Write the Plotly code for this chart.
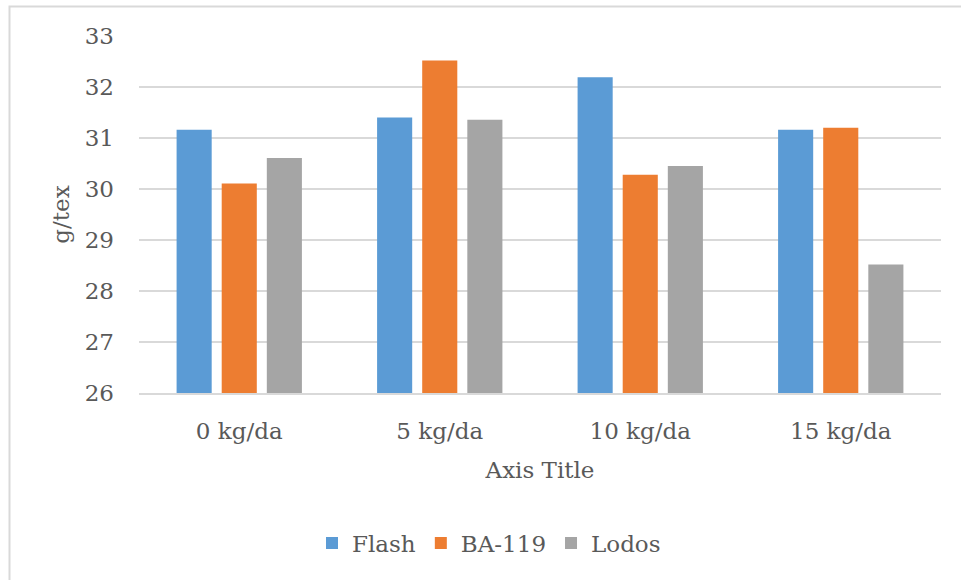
import plotly.graph_objects as go

# Fertilizer doses and fibre strength (g/tex) per cultivar
categories = ["0 kg/da", "5 kg/da", "10 kg/da", "15 kg/da"]
flash = [31.16, 31.40, 32.19, 31.16]
ba119 = [30.11, 32.52, 30.28, 31.20]
lodos = [30.61, 31.36, 30.45, 28.52]

series_names = ["Flash", "BA-119", "Lodos"]
series_colors = ["#5B9BD5", "#ED7D31", "#A5A5A5"]

W, H = 961, 580
L, R, T, B = 139, 20, 36, 187
plot_w = W - L - R
plot_h = H - T - B

text_color = "#595959"
grid_color = "#D9D9D9"
font_family = "DejaVu Serif"
fs = 23

fig = go.Figure()
for name, vals, col in zip(series_names, [flash, ba119, lodos], series_colors):
    fig.add_trace(go.Bar(
        x=categories, y=vals, name=name,
        marker=dict(color=col, line=dict(width=0)),
    ))


def px_to_paper_x(px):
    return (px - L) / plot_w


def px_to_paper_y(py):
    return (H - B - py) / plot_h


fig.update_layout(
    width=W, height=H,
    margin=dict(l=L, r=R, t=T, b=B, autoexpand=False),
    paper_bgcolor="white",
    plot_bgcolor="white",
    font=dict(family=font_family, size=fs, color=text_color),
    barmode="group",
    bargap=0.325,
    bargroupgap=0.222,
    showlegend=True,
    legend=dict(
        orientation="h",
        x=px_to_paper_x(489), xanchor="center",
        y=px_to_paper_y(543), yanchor="middle",
        font=dict(family=font_family, size=fs, color=text_color),
        itemwidth=30,
        tracegroupgap=0,
    ),
    xaxis=dict(
        showgrid=False,
        showline=True, linecolor=grid_color, linewidth=2,
        ticks="", ticklabelstandoff=16,
        tickfont=dict(family=font_family, size=fs, color=text_color),
        title=dict(text="Axis Title", standoff=19,
                   font=dict(family=font_family, size=fs, color=text_color)),
    ),
    yaxis=dict(
        range=[26, 33],
        dtick=1,
        showgrid=True, gridcolor=grid_color, gridwidth=2,
        zeroline=False, showline=False,
        ticks="", ticklabelstandoff=24,
        tickfont=dict(family=font_family, size=fs, color=text_color),
        title=dict(text="g/tex", standoff=8,
                   font=dict(family=font_family, size=fs, color=text_color)),
    ),
    shapes=[dict(
        type="rect", xref="paper", yref="paper",
        x0=px_to_paper_x(9.5), x1=px_to_paper_x(970),
        y0=px_to_paper_y(600), y1=px_to_paper_y(6.5),
        line=dict(color=grid_color, width=2),
        fillcolor="rgba(0,0,0,0)", layer="below",
    )],
)

fig.write_html("out.html")
